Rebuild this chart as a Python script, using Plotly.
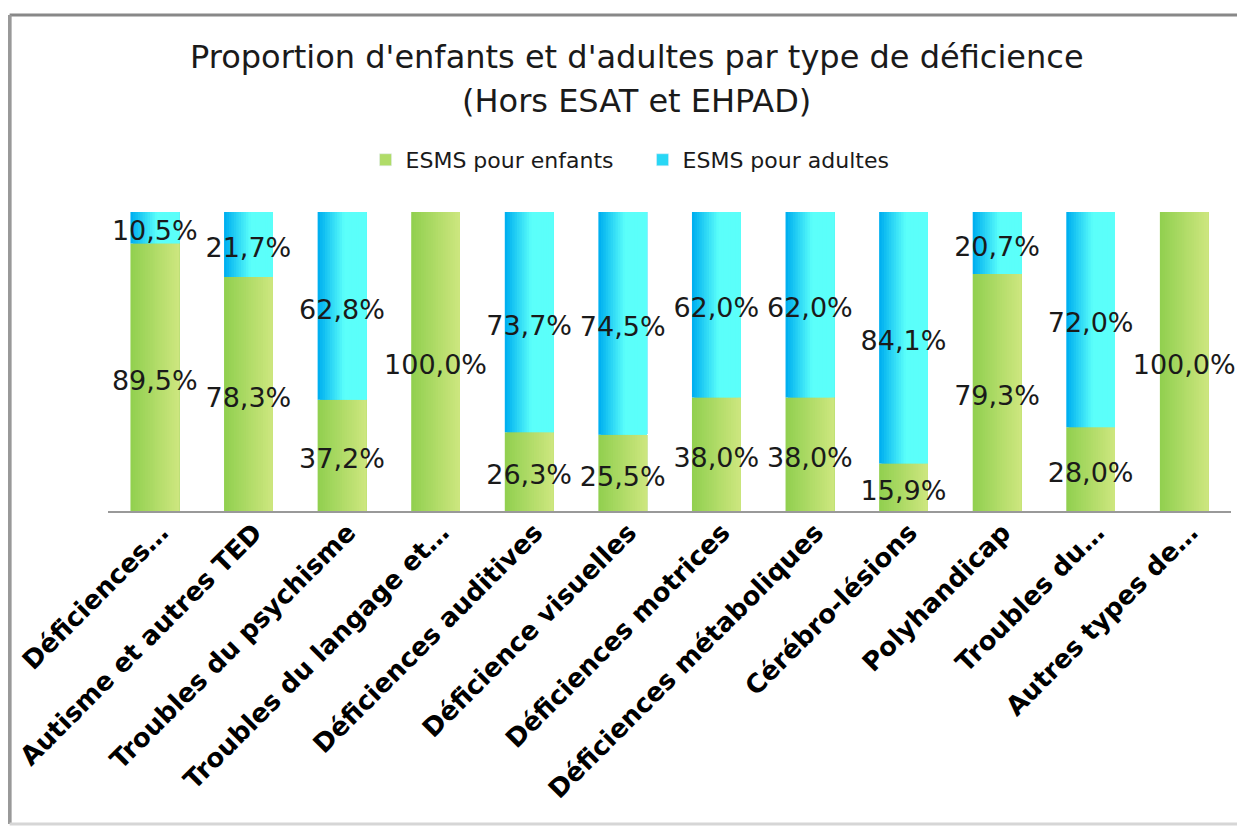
import plotly.graph_objects as go

# data
categories = [
    "Déficiences…", "Autisme et autres TED", "Troubles du psychisme",
    "Troubles du langage et…", "Déficiences auditives", "Déficience visuelles",
    "Déficiences motrices", "Déficiences métaboliques", "Cérébro-lésions",
    "Polyhandicap", "Troubles du…", "Autres types de…",
]
enfants = [89.5, 78.3, 37.2, 100.0, 26.3, 25.5, 38.0, 38.0, 15.9, 79.3, 28.0, 100.0]
adultes = [10.5, 21.7, 62.8, 0.0, 73.7, 74.5, 62.0, 62.0, 84.1, 20.7, 72.0, 0.0]
series_names = ["ESMS pour enfants", "ESMS pour adultes"]


def fmt(v):
    return f"{v:.1f}%".replace(".", ",")


def lerp(c1, c2, t):
    c = [round(a + (b - a) * t) for a, b in zip(c1, c2)]
    return "rgb({},{},{})".format(*c)


green_l, green_r = (146, 208, 80), (204, 230, 126)
blue_l, blue_r = (0, 176, 240), (91, 255, 250)

fig = go.Figure()

# bars drawn as stacked-over slices (each reaching the right edge) to fake the gradient fill
bar_w = 0.52
n_slices = 20
sw = bar_w / n_slices
for k in range(n_slices):
    t = k / (n_slices - 1)
    off = -bar_w / 2 + k * sw
    w = bar_w - k * sw
    fig.add_trace(go.Bar(
        x=categories, y=enfants, base=[0] * len(enfants),
        width=w, offset=off,
        marker=dict(color=lerp(green_l, green_r, t), line=dict(width=0)),
        showlegend=False, hoverinfo="skip",
    ))
    tb = min(t / 0.55, 1.0)
    fig.add_trace(go.Bar(
        x=categories, y=adultes, base=enfants,
        width=w, offset=off,
        marker=dict(color=lerp(blue_l, blue_r, tb), line=dict(width=0)),
        showlegend=False, hoverinfo="skip",
    ))

# legend entries
fig.add_trace(go.Bar(x=[categories[0]], y=[None], name=series_names[0],
                     marker=dict(color="rgb(176,220,104)")))
fig.add_trace(go.Bar(x=[categories[0]], y=[None], name=series_names[1],
                     marker=dict(color="rgb(40,215,245)")))

# value labels
lab_x, lab_y, lab_t = [], [], []
for c, e, a in zip(categories, enfants, adultes):
    lab_x.append(c); lab_y.append(e / 2 - 2); lab_t.append(fmt(e))
    if a > 0:
        lab_x.append(c); lab_y.append(e + a / 2 - 2); lab_t.append(fmt(a))
fig.add_trace(go.Scatter(
    x=lab_x, y=lab_y, text=lab_t, mode="text", showlegend=False,
    textfont=dict(family="DejaVu Sans", size=27, color="#1a1a1a"),
    hoverinfo="skip", cliponaxis=False,
))

fig.update_layout(
    width=1229, height=818,
    barmode="overlay",
    paper_bgcolor="white", plot_bgcolor="white",
    margin=dict(l=100, r=6, t=204, b=315),
    font=dict(family="DejaVu Sans", color="#1a1a1a"),
    legend=dict(orientation="h", x=0.476, xanchor="center", y=1.174, yanchor="middle",
                font=dict(size=22, color="#1a1a1a"), traceorder="normal",
                itemwidth=30, entrywidthmode="pixels", entrywidth=232),
    annotations=[
        dict(text="Proportion d'enfants et d'adultes par type de déficience",
             x=0.471, y=1.518, xref="paper", yref="paper", showarrow=False,
             font=dict(size=32, color="#1a1a1a"), yanchor="middle"),
        dict(text="(Hors ESAT et EHPAD)",
             x=0.471, y=1.371, xref="paper", yref="paper", showarrow=False,
             font=dict(size=32, color="#1a1a1a"), yanchor="middle"),
    ],
    shapes=[
        dict(type="line", xref="paper", yref="paper",
             x0=-0.0876, x1=1.2, y0=1.659, y1=1.659,
             line=dict(color="#888888", width=3), layer="below"),
        dict(type="line", xref="paper", yref="paper",
             x0=-0.0876, x1=-0.0876, y0=-1.047, y1=1.659,
             line=dict(color="#999999", width=4), layer="below"),
        dict(type="line", xref="paper", yref="paper",
             x0=-0.0876, x1=1.2, y0=-1.047, y1=-1.047,
             line=dict(color="#d6d6d6", width=3), layer="below"),
    ],
    showlegend=True,
)

fig.update_xaxes(
    range=[-0.5, len(categories) - 0.5],
    showline=True, linecolor="#999999", linewidth=2,
    ticks="", tickangle=-45, ticklabelshift=6, ticklabelstandoff=-6,
    tickfont=dict(family="DejaVu Sans", size=26, color="black", weight="bold"),
    showgrid=False,
)
fig.update_yaxes(range=[0, 100], visible=False, showgrid=False)

fig.write_html("out.html")
